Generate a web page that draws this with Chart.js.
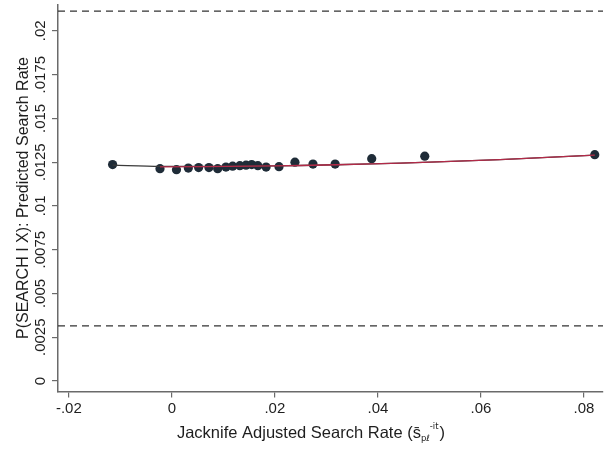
<!DOCTYPE html>
<html>
<head>
<meta charset="utf-8">
<script src="https://cdn.jsdelivr.net/npm/chart.js@4/dist/chart.umd.min.js"></script>
<style>
  html, body { margin: 0; padding: 0; background: #ffffff; }
  #wrap { width: 610px; height: 455px; }
</style>
</head>
<body>
<div id="wrap"><canvas id="c" width="610" height="455"></canvas></div>
<script>
// Binned means: jackknife-adjusted search rate vs. predicted search rate
const binX = [-0.0115, -0.0023, 0.0009, 0.0032, 0.0052, 0.0072, 0.0089, 0.0105, 0.0118, 0.0132,
              0.0144, 0.0155, 0.0167, 0.0183, 0.0208, 0.0239, 0.0274, 0.0317, 0.0388, 0.0491, 0.0821];
const binY = [0.01236, 0.01213, 0.01207, 0.01216, 0.01219, 0.01219, 0.01213, 0.01222, 0.01227, 0.01230,
              0.01233, 0.01236, 0.01230, 0.01222, 0.01224, 0.01250, 0.01239, 0.01239, 0.01270, 0.01284, 0.01293];

// Smoothed fit (red) and its full-range counterpart (black)
const fitX = [-0.0023, 0.0152, 0.0249, 0.0388, 0.0501, 0.0637, 0.0821];
const fitY = [0.01223, 0.01227, 0.01231, 0.01240, 0.01250, 0.01265, 0.01290];
const fullFitX = [-0.0115, -0.0023, 0.0152, 0.0249, 0.0388, 0.0501, 0.0637, 0.0821];
const fullFitY = [0.01233, 0.01226, 0.01227, 0.01231, 0.01240, 0.01250, 0.01265, 0.01290];

// Reference bounds drawn as dashed horizontal lines
const boundLevels = [0.00315, 0.02113];

// Axes
const xRange = [-0.0221, 0.0837];
const yRange = [-0.0006, 0.0215];
const xTicks = [-0.02, 0, 0.02, 0.04, 0.06, 0.08];
const xTickLabels = ['-.02', '0', '.02', '.04', '.06', '.08'];
const yTicks = [0, 0.0025, 0.005, 0.0075, 0.01, 0.0125, 0.015, 0.0175, 0.02];
const yTickLabels = ['0', '.0025', '.005', '.0075', '.01', '.0125', '.015', '.0175', '.02'];

const yTitle = 'P(SEARCH I X): Predicted Search Rate';
const xTitleMain = 'Jacknife Adjusted Search Rate (s\u0304';
const xTitleSub = 'p\u2113';
const xTitleSup = '-it';
const xTitleEnd = ')';

const FONT = '"Liberation Sans", Arial, Helvetica, sans-serif';
const SMALL_FONT = '"DejaVu Sans", "Liberation Sans", sans-serif';
const AXIS_COLOR = '#6a6a6a';
const TEXT_COLOR = '#1e1e1e';

const pts = (xs, ys) => xs.map((x, i) => ({ x: x, y: ys[i] }));

// Rotated y tick labels and axis titles
const textPlugin = {
  id: 'axisText',
  afterDraw(chart) {
    const ctx = chart.ctx;
    const ys = chart.scales.y;
    const area = chart.chartArea;
    ctx.save();
    ctx.fillStyle = TEXT_COLOR;
    ctx.textAlign = 'center';
    ctx.textBaseline = 'middle';

    // y tick labels, reading upward
    ctx.font = '15px ' + FONT;
    ys.ticks.forEach((t) => {
      const idx = yTicks.indexOf(t.value);
      if (idx < 0) return;
      const py = ys.getPixelForValue(t.value);
      ctx.save();
      ctx.translate(41, py);
      ctx.rotate(-Math.PI / 2);
      ctx.fillText(yTickLabels[idx], 0, 0);
      ctx.restore();
    });

    // y title
    ctx.font = '16px ' + FONT;
    ctx.save();
    ctx.translate(24, (area.top + area.bottom) / 2);
    ctx.rotate(-Math.PI / 2);
    ctx.fillText(yTitle, 0, 0);
    ctx.restore();

    // x title with subscript and superscript
    const mainFont = '16.5px ' + FONT;
    const smallFont = '8.5px ' + SMALL_FONT;
    ctx.textAlign = 'left';
    ctx.textBaseline = 'alphabetic';
    ctx.font = mainFont;
    const wMain = ctx.measureText(xTitleMain).width;
    const wEnd = ctx.measureText(xTitleEnd).width;
    ctx.font = smallFont;
    const wSub = ctx.measureText(xTitleSub).width;
    const wSup = ctx.measureText(xTitleSup).width;
    const total = wMain + wSub + wSup + wEnd + 1;
    const baseY = 438;
    let x = 311 - total / 2;
    ctx.font = mainFont;
    ctx.fillText(xTitleMain, x, baseY);
    x += wMain;
    ctx.font = smallFont;
    ctx.fillText(xTitleSub, x, baseY + 3);
    x += wSub;
    ctx.fillText(xTitleSup, x, baseY - 9);
    x += wSup + 1;
    ctx.font = mainFont;
    ctx.fillText(xTitleEnd, x, baseY);
    ctx.restore();
  }
};

new Chart(document.getElementById('c'), {
  data: {
    datasets: [
      {
        type: 'line',
        data: pts(fitX, fitY),
        borderColor: '#b22a48',
        borderWidth: 1.3,
        pointRadius: 0,
        tension: 0.3,
        order: 0
      },
      {
        type: 'line',
        data: pts(fullFitX, fullFitY),
        borderColor: '#3a3a3a',
        borderWidth: 1.3,
        pointRadius: 0,
        tension: 0.3,
        order: 1
      },
      {
        type: 'scatter',
        data: pts(binX, binY),
        backgroundColor: '#1f2c38',
        borderColor: '#1f2c38',
        borderWidth: 0,
        pointRadius: 4.6,
        order: 2
      },
      {
        type: 'line',
        data: pts(xRange, [boundLevels[1], boundLevels[1]]),
        borderColor: '#333333',
        borderWidth: 1.4,
        borderDash: [7, 5],
        pointRadius: 0,
        order: 3
      },
      {
        type: 'line',
        data: pts(xRange, [boundLevels[0], boundLevels[0]]),
        borderColor: '#333333',
        borderWidth: 1.4,
        borderDash: [7, 5],
        pointRadius: 0,
        order: 3
      }
    ]
  },
  options: {
    responsive: false,
    devicePixelRatio: 1,
    animation: false,
    layout: { padding: { left: 0, right: 7, top: 2.6, bottom: 0 } },
    plugins: { legend: { display: false }, tooltip: { enabled: false } },
    scales: {
      x: {
        type: 'linear',
        min: xRange[0],
        max: xRange[1],
        afterBuildTicks: (s) => { s.ticks = xTicks.map((v) => ({ value: v })); },
        afterFit: (s) => { s.height = 63.5; },
        ticks: {
          autoSkip: false,
          maxRotation: 0,
          padding: 2,
          color: TEXT_COLOR,
          font: { family: FONT, size: 15 },
          callback: (v) => xTickLabels[xTicks.indexOf(v)]
        },
        grid: { drawOnChartArea: false, drawTicks: true, tickLength: 6, color: AXIS_COLOR, lineWidth: 1.2 },
        border: { display: true, color: AXIS_COLOR, width: 1.5 }
      },
      y: {
        type: 'linear',
        min: yRange[0],
        max: yRange[1],
        afterBuildTicks: (s) => { s.ticks = yTicks.map((v) => ({ value: v })); },
        afterFit: (s) => { s.width = 58; },
        ticks: { display: false, autoSkip: false },
        grid: { drawOnChartArea: false, drawTicks: true, tickLength: 6, color: AXIS_COLOR, lineWidth: 1.2 },
        border: { display: true, color: AXIS_COLOR, width: 1.5 }
      }
    }
  },
  plugins: [textPlugin]
});
</script>
</body>
</html>
